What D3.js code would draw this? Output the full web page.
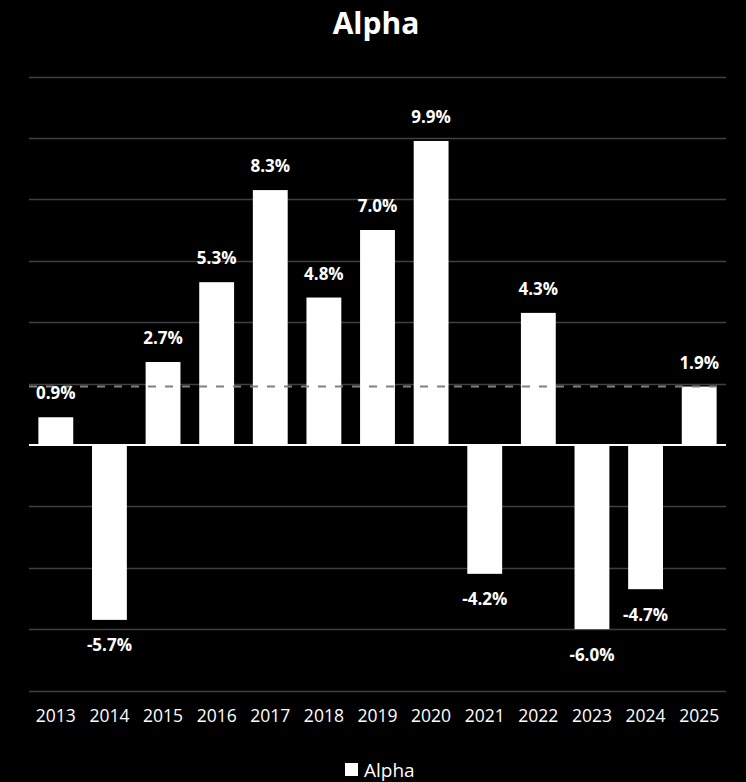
<!DOCTYPE html>
<html><head><meta charset="utf-8">
<script src="https://cdn.jsdelivr.net/npm/d3@7"></script>
<style>html,body{margin:0;padding:0;background:#000;}svg{display:block;}</style>
</head><body>
<svg id="c" width="746" height="782"></svg>
<script>
const categories = ["2013","2014","2015","2016","2017","2018","2019","2020","2021","2022","2023","2024","2025"];
const values = [0.9,-5.7,2.7,5.3,8.3,4.8,7.0,9.9,-4.2,4.3,-6.0,-4.7,1.9];
const gridTicks = [-8,-6,-4,-2,0,2,4,6,8,10,12];
const averageValue = 1.9;
const seriesName = "Alpha";

(function(){
const font = "'Open Sans', 'Liberation Sans', sans-serif";
const svg = d3.select("#c");
svg.append("rect").attr("width",746).attr("height",782).attr("fill","#000");

const pLeft = 29, pRight = 726, pTop = 76.5, pBottom = 690.5;
const x = d3.scaleBand().domain(categories).range([pLeft,pRight]).paddingInner(0.35).paddingOuter(0.175);
const y = d3.scaleLinear().domain([-8,12]).range([pBottom,pTop]);

// gridlines
svg.append("g").selectAll("line").data(gridTicks.filter(d=>d!==0)).join("line")
  .attr("x1",pLeft).attr("x2",pRight).attr("y1",d=>Math.round(y(d))+0.5).attr("y2",d=>Math.round(y(d))+0.5)
  .attr("stroke","#404040").attr("stroke-width",1.5);

// bars
svg.append("g").selectAll("rect").data(values).join("rect")
  .attr("x",(d,i)=>x(categories[i]))
  .attr("width",x.bandwidth())
  .attr("y",d=>y(Math.max(0,d)))
  .attr("height",d=>Math.abs(y(d)-y(0)))
  .attr("fill","#fff");

// average dashed line
svg.append("line").attr("x1",pLeft).attr("x2",pRight)
  .attr("y1",y(averageValue)).attr("y2",y(averageValue))
  .attr("stroke","#808080").attr("stroke-width",2).attr("stroke-dasharray","8,9");

// zero line
svg.append("line").attr("x1",pLeft).attr("x2",pRight).attr("y1",y(0)).attr("y2",y(0))
  .attr("stroke","#fff").attr("stroke-width",2);

// labels
svg.append("g").selectAll("text").data(values).join("text")
  .attr("x",(d,i)=>x(categories[i])+x.bandwidth()/2)
  .attr("y",d=>d>=0 ? y(d)-18 : y(d)+31.5)
  .attr("text-anchor","middle")
  .attr("font-family",font).attr("font-weight","bold").attr("font-size",17)
  .attr("fill","#fff")
  .text(d=>d.toFixed(1)+"%");

// x axis
const xAxis = svg.append("g").attr("transform",`translate(0,${pBottom})`)
  .call(d3.axisBottom(x).tickSize(0).tickPadding(19));
xAxis.select(".domain").remove();
xAxis.selectAll("text").attr("font-family",font).attr("font-size",17.5).attr("fill","#fff");

// title
svg.append("text").attr("x",376).attr("y",34).attr("text-anchor","middle")
  .attr("font-family",font).attr("font-weight","bold").attr("font-size",30).attr("fill","#fff").text(seriesName);

// legend
svg.append("rect").attr("x",345).attr("y",763).attr("width",13).attr("height",13).attr("fill","#fff");
svg.append("text").attr("x",364).attr("y",777).attr("font-family",font).attr("font-size",19).attr("fill","#fff").text(seriesName);
})();
</script>
</body></html>
